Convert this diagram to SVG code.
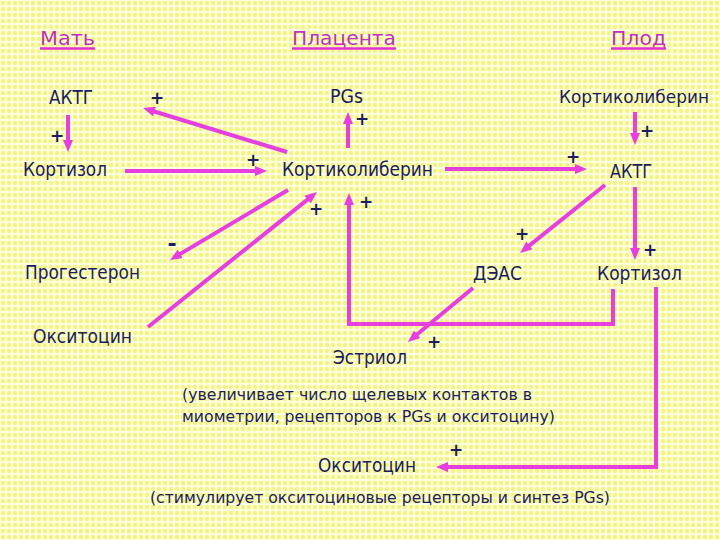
<svg xmlns="http://www.w3.org/2000/svg" width="720" height="540" viewBox="0 0 720 540">
<defs>
<pattern id="bg" width="6" height="6" patternUnits="userSpaceOnUse">
<rect width="6" height="6" fill="#fdfde0"/>
<circle cx="3" cy="3" r="2.2" fill="#f3f67c"/>
</pattern>
<marker id="ah" markerUnits="userSpaceOnUse" markerWidth="12" markerHeight="10" refX="7" refY="5" orient="auto">
<path d="M0,0 L12,5 L0,10 z" fill="#e63fe0"/>
</marker>
</defs>
<style>
text{font-family:"DejaVu Sans","Liberation Sans",sans-serif;}
.h{font-size:20px;fill:#c030c0;}
.ul{stroke:#e030d0;stroke-width:2.5;}
.n{font-size:19px;fill:#1c1c5e;}
.s{font-size:16.5px;fill:#1c1c5e;}
.p{font-size:17px;font-weight:bold;fill:#1c1c5e;text-anchor:middle;}
.c{fill:none;stroke:#e63fe0;stroke-width:4;marker-end:url(#ah);}
</style>
<rect width="720" height="540" fill="url(#bg)"/>

<g id="headers">
<text class="h" x="40" y="45" textLength="55" lengthAdjust="spacingAndGlyphs">Мать</text>
<line class="ul" x1="40" y1="48.5" x2="95" y2="48.5"/>
<text class="h" x="292" y="45" textLength="104" lengthAdjust="spacingAndGlyphs">Плацента</text>
<line class="ul" x1="292" y1="48.5" x2="396" y2="48.5"/>
<text class="h" x="611" y="45" textLength="55" lengthAdjust="spacingAndGlyphs">Плод</text>
<line class="ul" x1="611" y1="48.5" x2="666" y2="48.5"/>
</g>

<g id="n-aktg-m"><text class="n" x="49" y="104" textLength="44" lengthAdjust="spacingAndGlyphs">АКТГ</text></g>
<g id="n-pgs"><text class="n" x="330" y="103" textLength="33" lengthAdjust="spacingAndGlyphs">PGs</text></g>
<g id="n-crh-f"><text class="n" x="559" y="103" textLength="150" lengthAdjust="spacingAndGlyphs" style="font-size:18px">Кортиколиберин</text></g>
<g id="n-cort-m"><text class="n" x="23" y="176" textLength="84" lengthAdjust="spacingAndGlyphs">Кортизол</text></g>
<g id="n-crh-p"><text class="n" x="282" y="176" textLength="151" lengthAdjust="spacingAndGlyphs">Кортиколиберин</text></g>
<g id="n-aktg-f"><text class="n" x="610" y="178" textLength="42" lengthAdjust="spacingAndGlyphs">АКТГ</text></g>
<g id="n-prog"><text class="n" x="25" y="279" textLength="115" lengthAdjust="spacingAndGlyphs">Прогестерон</text></g>
<g id="n-deas"><text class="n" x="473" y="280" textLength="49" lengthAdjust="spacingAndGlyphs">ДЭАС</text></g>
<g id="n-cort-f"><text class="n" x="597" y="280" textLength="85" lengthAdjust="spacingAndGlyphs">Кортизол</text></g>
<g id="n-oxy-m"><text class="n" x="33" y="343" textLength="99" lengthAdjust="spacingAndGlyphs">Окситоцин</text></g>
<g id="n-estriol"><text class="n" x="333" y="364" textLength="74" lengthAdjust="spacingAndGlyphs">Эстриол</text></g>
<g id="n-note1">
<text class="s" x="182" y="400" textLength="350" lengthAdjust="spacingAndGlyphs">(увеличивает число щелевых контактов в</text>
<text class="s" x="182" y="422" textLength="373" lengthAdjust="spacingAndGlyphs">миометрии, рецепторов к PGs и окситоцину)</text>
</g>
<g id="n-oxy-b"><text class="n" x="318" y="472" textLength="98" lengthAdjust="spacingAndGlyphs">Окситоцин</text></g>
<g id="n-note2"><text class="s" x="150" y="503" textLength="460" lengthAdjust="spacingAndGlyphs">(стимулирует окситоциновые рецепторы и синтез PGs)</text></g>

<g id="connectors">
<path class="c" d="M68,115 V147"/>
<path class="c" d="M287,152 L147.8,109.5"/>
<path class="c" d="M125,171 H262"/>
<path class="c" d="M348,148 V117"/>
<path class="c" d="M445,169 H582"/>
<path class="c" d="M635,112 V140"/>
<path class="c" d="M605,185 L523.9,249.9"/>
<path class="c" d="M635,187 V255"/>
<path class="c" d="M288,190 L174.3,257.4"/>
<path class="c" d="M148,327 L313.1,195.1"/>
<path class="c" d="M613,289 V324 H349 V198"/>
<path class="c" d="M473,288 L411.8,338.8"/>
<path class="c" d="M656,287 V467 H441"/>
</g>

<g id="signs">
<text class="p" x="157" y="104">+</text>
<text class="p" x="57" y="142">+</text>
<text class="p" x="362" y="125">+</text>
<text class="p" x="253" y="166">+</text>
<text class="p" x="316" y="215">+</text>
<text class="p" x="366" y="208">+</text>
<text class="p" x="647" y="137">+</text>
<text class="p" x="573" y="163">+</text>
<text class="p" x="522" y="240">+</text>
<text class="p" x="650" y="256">+</text>
<text class="p" x="172" y="251" style="font-size:22px">-</text>
<text class="p" x="434" y="348">+</text>
<text class="p" x="456" y="456">+</text>
</g>
</svg>
